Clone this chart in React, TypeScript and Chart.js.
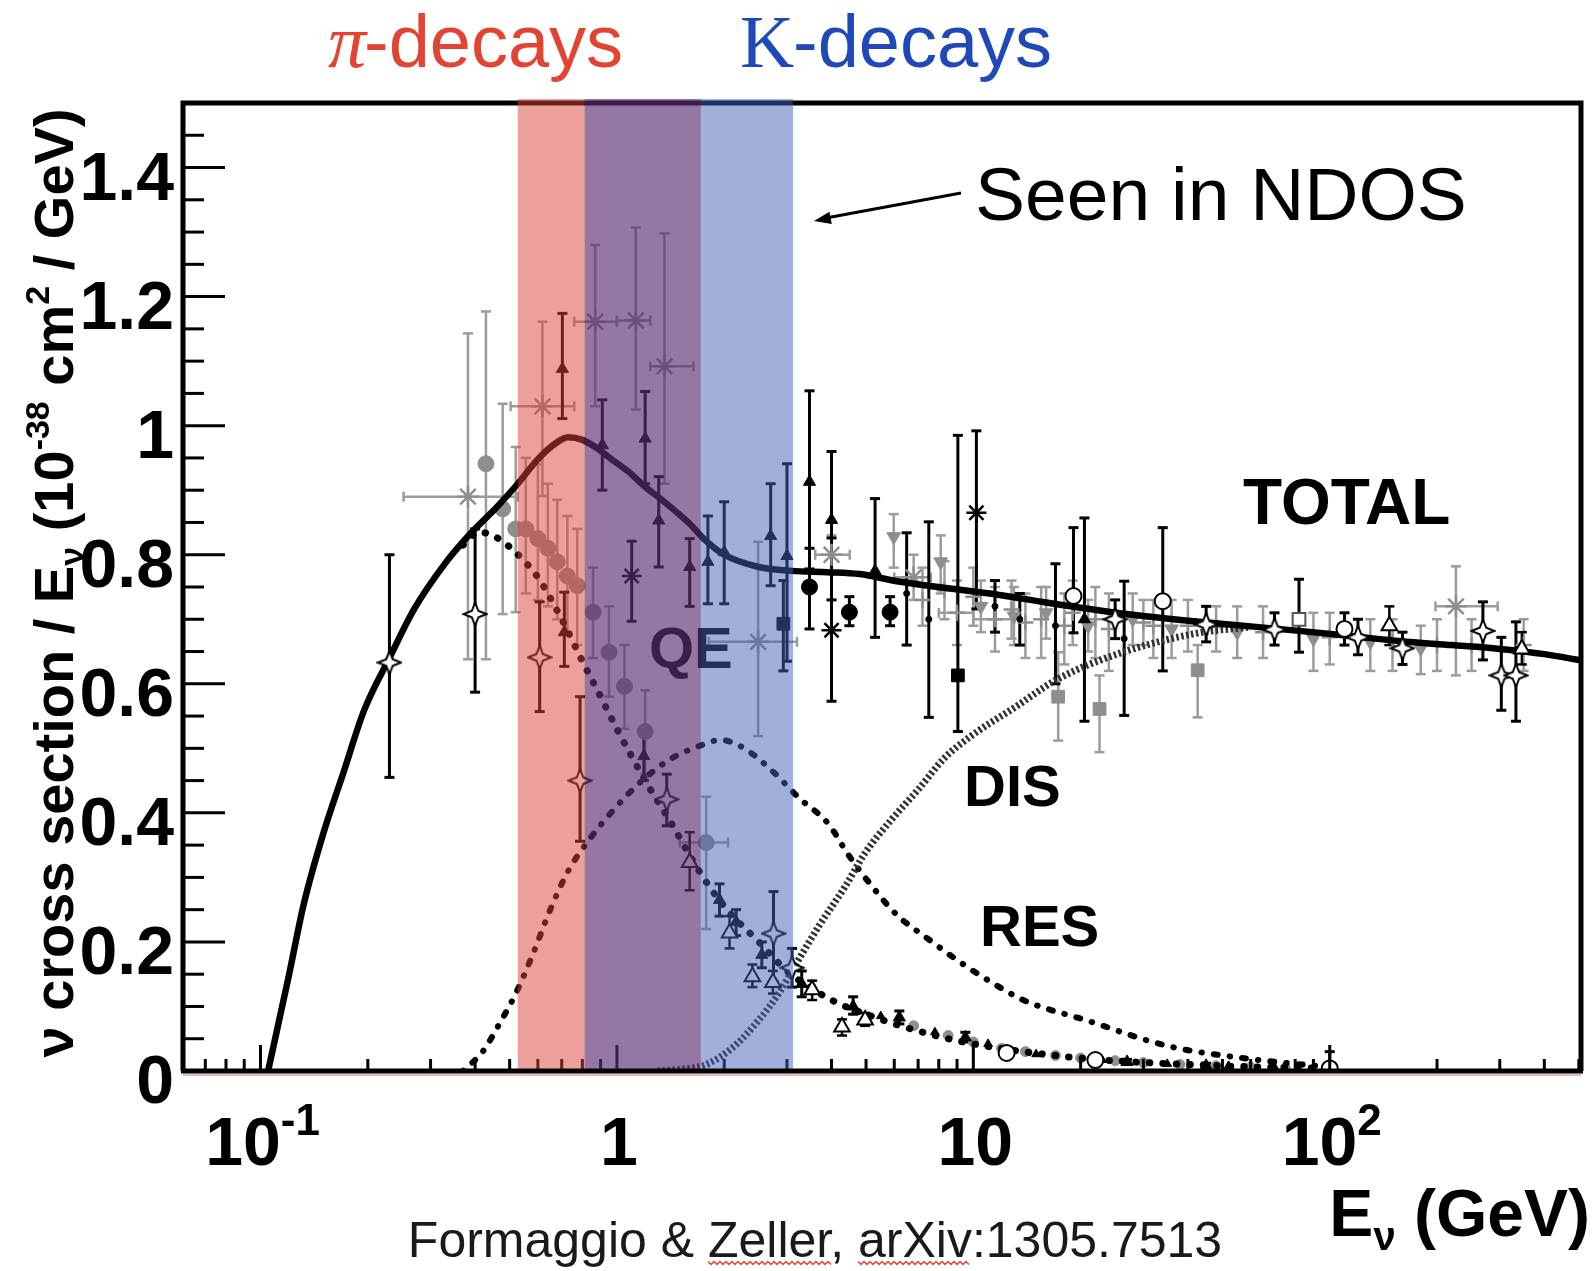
import { useEffect, useRef } from "react";
import { Chart, registerables } from "chart.js";

Chart.register(...registerables);

const W = 1595;
const H = 1271;
const X_MIN = 0.0606;
const X_MAX = 507;
const Y_MAX = 1.5;

const SANS = '"Liberation Sans", Arial, Helvetica, sans-serif';
const SERIF = '"Liberation Serif", "Times New Roman", serif';

// neutrino-energy ranges of the decay bands (GeV)
const piBand = [0.527, 1.72];
const kBand = [0.811, 3.12];

// axis ticks
const yTickValues = [0, 0.2, 0.4, 0.6, 0.8, 1, 1.2, 1.4];
const yTickLabels = ["0", "0.2", "0.4", "0.6", "0.8", "1", "1.2", "1.4"];
const xTickValues = [0.1, 1, 10, 100];
const xTickMantissa = ["10", "1", "10", "10"];
const xTickExponent = ["-1", "", "", "2"];

// theory curves: E (GeV) and sigma/E (1e-38 cm^2/GeV)
const totalE = [0.105, 0.12, 0.132, 0.15, 0.171, 0.195, 0.23, 0.27, 0.33, 0.39, 0.457, 0.527, 0.6, 0.67, 0.73, 0.8, 0.88, 0.96, 1.07, 1.19, 1.33, 1.47, 1.62, 1.75, 2.0, 2.5, 3.1, 3.9, 4.8, 6.1, 8.5, 11.7, 16, 22.4, 30, 43, 60, 82, 115, 158, 220, 300, 400, 510];
const totalV = [0, 0.147, 0.257, 0.368, 0.463, 0.558, 0.64, 0.716, 0.787, 0.834, 0.872, 0.91, 0.948, 0.972, 0.982, 0.978, 0.965, 0.949, 0.93, 0.907, 0.886, 0.866, 0.845, 0.825, 0.8, 0.781, 0.775, 0.773, 0.77, 0.759, 0.748, 0.738, 0.726, 0.714, 0.705, 0.696, 0.689, 0.682, 0.674, 0.666, 0.66, 0.654, 0.646, 0.636];

const qeE = [0.37, 0.41, 0.455, 0.5, 0.55, 0.6, 0.7, 0.8, 0.9, 1.0, 1.2, 1.4, 1.7, 2.0, 2.5, 3.0, 4, 5, 7, 10, 20, 50, 100];
const qeV = [0.815, 0.835, 0.828, 0.812, 0.79, 0.765, 0.7, 0.635, 0.58, 0.53, 0.45, 0.39, 0.31, 0.255, 0.2, 0.155, 0.11, 0.088, 0.062, 0.042, 0.02, 0.008, 0.004];

const resE = [0.37, 0.42, 0.47, 0.52, 0.58, 0.65, 0.73, 0.84, 0.98, 1.15, 1.4, 1.75, 1.95, 2.26, 2.74, 3.23, 3.92, 4.46, 5.2, 6.1, 7.45, 9, 11.2, 13.8, 20.9, 35, 59, 100];
const resV = [0, 0.03, 0.075, 0.12, 0.18, 0.25, 0.31, 0.36, 0.405, 0.445, 0.482, 0.506, 0.513, 0.501, 0.464, 0.424, 0.383, 0.335, 0.286, 0.242, 0.205, 0.172, 0.138, 0.11, 0.078, 0.039, 0.019, 0.006];

const disE = [1.3, 1.6, 1.78, 2.12, 2.5, 2.85, 3.23, 3.68, 4.37, 4.97, 5.9, 7.0, 8.3, 9.85, 13.2, 17.2, 26.3, 43, 60];
const disV = [0, 0.004, 0.01, 0.037, 0.079, 0.121, 0.172, 0.224, 0.286, 0.338, 0.39, 0.436, 0.485, 0.519, 0.565, 0.607, 0.649, 0.679, 0.688];

// measurements: [E, value, errLow, errHigh, E_low, E_high]
const blackTriangles = [
  [0.703, 1.088, 1.011, 1.174], [0.712, 0.68, 0.627, 0.742], [0.91, 0.97, 0.9, 1.04],
  [1.2, 0.98, 0.91, 1.053], [1.31, 0.853, 0.781, 0.921], [1.6, 0.781, 0.72, 0.825],
  [1.8, 0.789, 0.724, 0.86], [2.0, 0.804, 0.724, 0.882], [2.7, 0.829, 0.752, 0.91],
  [3.0, 0.798, 0.635, 0.941], [3.47, 0.913, 0.778, 1.054], [4.0, 0.854, 0.73, 0.96],
  [5.3, 0.775, 0.672, 0.887], [20.5, 0.7, 0.542, 0.857],
  [1.19, 0.488, 0.45, 0.53], [1.94, 0.265, 0.24, 0.29], [2.16, 0.231, 0.21, 0.25],
  [2.55, 0.18, 0.16, 0.2], [3.3, 0.135, 0.115, 0.155], [4.6, 0.1, 0.088, 0.115],
  [6.2, 0.083, 0.073, 0.093], [9.5, 0.052, 0.045, 0.06], [27, 0.014, 0.01, 0.018], [45, 0.008, 0.004, 0.012],
];
const blackBars = [
  [6.5, 0.74, 0.66, 0.834], [7.5, 0.7, 0.548, 0.851], [17, 0.69, 0.6, 0.786], [26.5, 0.67, 0.551, 0.759],
  [11.5, 0.72, 0.68, 0.76], [13.5, 0.7, 0.66, 0.74],
];
const grayCircles = [
  [0.429, 0.941, 0.638, 1.177], [0.478, 0.871, 0.708, 1.034], [0.52, 0.84, 0.711, 0.967],
  [0.555, 0.84, 0.74, 0.95], [0.6, 0.825, 0.73, 0.94], [0.64, 0.81, 0.72, 0.91],
  [0.68, 0.789, 0.7, 0.885], [0.726, 0.767, 0.68, 0.86], [0.774, 0.752, 0.66, 0.84],
  [0.857, 0.711, 0.64, 0.78], [0.95, 0.649, 0.58, 0.72], [1.05, 0.596, 0.53, 0.66],
  [1.2, 0.526, 0.46, 0.59], [1.78, 0.354, 0.22, 0.425, 1.5, 2.05],
];
const grayStars = [
  [0.382, 0.89, 0.638, 1.143, 0.252, 0.527], [0.618, 1.03, 0.891, 1.161, 0.503, 0.759],
  [0.869, 1.161, 1.03, 1.28, 0.759, 1.0], [1.13, 1.163, 1.025, 1.307, 1.0, 1.24],
  [1.36, 1.092, 0.91, 1.298, 1.24, 1.64], [2.49, 0.665, 0.519, 0.82, 1.81, 3.2],
  [4.0, 0.8, 0.77, 0.83, 3.6, 4.5], [6.8, 0.765, 0.73, 0.8, 6.0, 7.6],
  [226, 0.72, 0.613, 0.782, 198, 296],
];
const openStars = [
  [0.23, 0.633, 0.455, 0.8], [0.4, 0.708, 0.587, 0.84], [0.607, 0.641, 0.557, 0.727],
  [0.788, 0.45, 0.356, 0.58], [1.38, 0.421, 0.38, 0.46], [2.75, 0.213, 0.139, 0.278],
  [3.1, 0.16, 0.13, 0.19], [25, 0.7, 0.67, 0.73], [45, 0.692, 0.665, 0.72],
  [70, 0.684, 0.66, 0.71], [120, 0.672, 0.645, 0.7], [160, 0.655, 0.63, 0.68],
  [269, 0.682, 0.637, 0.727], [303, 0.613, 0.559, 0.672], [333, 0.613, 0.542, 0.696],
];
const blackCircles = [[3.47, 0.75, 0.685, 0.81], [4.49, 0.711, 0.69, 0.735], [5.84, 0.711, 0.69, 0.735]];
const blackStars = [[1.1, 0.767, 0.697, 0.821], [4.0, 0.683, 0.573, 0.826], [10.2, 0.865, 0.716, 0.992]];
const blackSquares = [[2.93, 0.693, 0.62, 0.76], [9.05, 0.613, 0.526, 0.985]];
const graySquares = [[17.3, 0.58, 0.512, 0.649], [22.6, 0.561, 0.494, 0.613], [42.6, 0.621, 0.548, 0.66]];
const grayInvTriangles = [
  [5.98, 0.828, 0.78, 0.863], [8.1, 0.789, 0.74, 0.83], [10.5, 0.72, 0.68, 0.76], [13, 0.705, 0.66, 0.75],
  [16, 0.71, 0.67, 0.75], [21, 0.69, 0.65, 0.73], [28, 0.7, 0.66, 0.74], [36, 0.685, 0.64, 0.73],
  [55, 0.68, 0.64, 0.72], [90, 0.67, 0.62, 0.71], [130, 0.665, 0.62, 0.7], [180, 0.655, 0.615, 0.69],
];
const grayCrosses = [
  [9, 0.71, 0.66, 0.76, 8, 10], [11.5, 0.7, 0.65, 0.75, 10, 13], [14, 0.695, 0.64, 0.74],
  [18, 0.69, 0.63, 0.74], [24, 0.685, 0.62, 0.74], [32, 0.69, 0.64, 0.73], [48, 0.688, 0.65, 0.72],
  [65, 0.68, 0.64, 0.72], [100, 0.672, 0.63, 0.71], [150, 0.665, 0.62, 0.7], [200, 0.66, 0.62, 0.7],
  [250, 0.66, 0.62, 0.7], [350, 0.66, 0.62, 0.7],
  [7.2, 0.73, 0.69, 0.78], [8.3, 0.745, 0.7, 0.79], [10, 0.735, 0.69, 0.78], [12.8, 0.715, 0.67, 0.76],
  [15.5, 0.7, 0.64, 0.75], [19, 0.71, 0.66, 0.76], [22, 0.7, 0.64, 0.75], [30, 0.695, 0.66, 0.73], [40, 0.69, 0.65, 0.73],
];
const openCircles = [
  [19.1, 0.736, 0.679, 0.842], [34, 0.728, 0.62, 0.842], [110, 0.685, 0.66, 0.71],
  [12.4, 0.028], [22, 0.017], [100, 0.004, 0, 0.03],
];
const openTriangles = [
  [1.6, 0.323, 0.28, 0.37], [2.07, 0.214, 0.19, 0.24], [2.4, 0.146, 0.13, 0.165], [2.74, 0.137, 0.12, 0.155],
  [3.53, 0.126, 0.11, 0.14], [4.28, 0.068, 0.055, 0.08], [4.97, 0.079, 0.07, 0.09],
  [147, 0.69, 0.66, 0.72], [346, 0.654, 0.63, 0.68],
];
const openSquares = [[82, 0.7, 0.649, 0.762]];
const grayTail = [
  [6.8, 0.07], [8.5, 0.055], [10, 0.045], [12, 0.035], [14, 0.03], [17, 0.024], [20, 0.02],
  [25, 0.016], [30, 0.013], [38, 0.01], [48, 0.008], [60, 0.006], [75, 0.005],
];
const blackTail = [[5.5, 0.085], [7.8, 0.06], [11, 0.042], [15, 0.026], [23, 0.017], [35, 0.011], [52, 0.008], [70, 0.006]];

const toPts = (rows: number[][]) =>
  rows.map((r) => ({ x: r[0], y: r[1], lo: r[2], hi: r[3], xlo: r[4], xhi: r[5] }));
const curvePts = (es: number[], vs: number[]) => es.map((e, i) => ({ x: e, y: vs[i] }));

function makeOpenStar(size: number) {
  const c = document.createElement("canvas");
  c.width = size;
  c.height = size;
  const g = c.getContext("2d")!;
  const cx = size / 2;
  const r = size / 2 - 1.5;
  const ri = r * 0.4;
  g.beginPath();
  for (let i = 0; i < 8; i++) {
    const a = -Math.PI / 2 + (i * Math.PI) / 4;
    const rr = i % 2 === 0 ? r : ri;
    g.lineTo(cx + rr * Math.cos(a), cx + rr * Math.sin(a));
  }
  g.closePath();
  g.fillStyle = "#fff";
  g.fill();
  g.lineWidth = 2;
  g.strokeStyle = "#000";
  g.stroke();
  return c;
}

function line(ctx: CanvasRenderingContext2D, x1: number, y1: number, x2: number, y2: number) {
  ctx.beginPath();
  ctx.moveTo(x1, y1);
  ctx.lineTo(x2, y2);
  ctx.stroke();
}

type Seg = { t: string; font: string; dy: number };
function drawSegs(ctx: CanvasRenderingContext2D, segs: Seg[], x: number, y: number, align: "left" | "center" | "right") {
  let total = 0;
  const widths = segs.map((s) => {
    ctx.font = s.font;
    const w = ctx.measureText(s.t).width;
    total += w;
    return w;
  });
  let cx = align === "left" ? x : align === "center" ? x - total / 2 : x - total;
  ctx.textAlign = "left";
  ctx.textBaseline = "alphabetic";
  segs.forEach((s, i) => {
    ctx.font = s.font;
    ctx.fillText(s.t, cx, y + s.dy);
    cx += widths[i];
  });
}

const errorBarPlugin = {
  id: "errorBars",
  beforeDatasetsDraw(chart: any) {
    const { ctx, chartArea: ca } = chart;
    const xs = chart.scales.x;
    const ys = chart.scales.y;
    ctx.save();
    ctx.beginPath();
    ctx.rect(ca.left, ca.top, ca.right - ca.left, ca.bottom - ca.top);
    ctx.clip();
    chart.data.datasets.forEach((ds: any) => {
      if (!ds.errColor) return;
      ctx.strokeStyle = ds.errColor;
      ctx.lineWidth = ds.errWidth;
      ds.data.forEach((p: any) => {
        const px = xs.getPixelForValue(p.x);
        const py = ys.getPixelForValue(p.y);
        if (p.lo !== undefined && p.hi !== undefined) {
          const y1 = ys.getPixelForValue(p.lo);
          const y2 = ys.getPixelForValue(p.hi);
          line(ctx, px, y1, px, y2);
          line(ctx, px - 5, y1, px + 5, y1);
          line(ctx, px - 5, y2, px + 5, y2);
        }
        if (p.xlo !== undefined && p.xhi !== undefined) {
          const x1 = xs.getPixelForValue(p.xlo);
          const x2 = xs.getPixelForValue(p.xhi);
          line(ctx, x1, py, x2, py);
          line(ctx, x1, py - 5, x1, py + 5);
          line(ctx, x2, py - 5, x2, py + 5);
        }
      });
    });
    ctx.restore();
  },
};

const decorPlugin = {
  id: "decor",
  afterDatasetsDraw(chart: any) {
    const { ctx, chartArea: ca } = chart;
    const xs = chart.scales.x;
    const ys = chart.scales.y;
    ctx.save();
    // QE label lies under the bands
    ctx.fillStyle = "#000";
    ctx.font = `bold 58px ${SANS}`;
    ctx.textAlign = "left";
    ctx.textBaseline = "alphabetic";
    ctx.fillText("QE", 649, 668);

    // frame (top, left, right)
    ctx.strokeStyle = "#000";
    ctx.lineWidth = 5;
    ctx.beginPath();
    ctx.moveTo(ca.left, ca.bottom);
    ctx.lineTo(ca.left, ca.top);
    ctx.lineTo(ca.right, ca.top);
    ctx.lineTo(ca.right, ca.bottom);
    ctx.stroke();

    // y ticks (inside)
    ctx.lineWidth = 3;
    for (let i = 1; i <= 30; i++) {
      const py = ys.getPixelForValue(i * 0.05);
      const len = i % 4 === 0 ? 42 : 21;
      line(ctx, ca.left, py, ca.left + len, py);
    }
    // x ticks (inside, log)
    for (let d = -2; d <= 2; d++) {
      for (let m = 1; m <= 9; m++) {
        const e = m * Math.pow(10, d);
        if (e < X_MIN || e > X_MAX) continue;
        const px = xs.getPixelForValue(e);
        line(ctx, px, ca.bottom, px, ca.bottom - (m === 1 ? 26 : 12));
      }
    }

    // decay bands (semi-transparent overlays)
    const pL = xs.getPixelForValue(piBand[0]);
    const pR = xs.getPixelForValue(piBand[1]);
    const kL = xs.getPixelForValue(kBand[0]);
    const kR = xs.getPixelForValue(kBand[1]);
    const top = ca.top - 4;
    const h = ca.bottom - top;
    ctx.fillStyle = "rgba(219,65,55,0.5)";
    ctx.fillRect(pL, top, kL - pL, h);
    ctx.fillStyle = "rgba(92,46,115,0.65)";
    ctx.fillRect(kL, top, pR - kL, h);
    ctx.fillStyle = "rgba(65,97,183,0.5)";
    ctx.fillRect(pR, top, kR - pR, h);

    // bottom axis
    ctx.strokeStyle = "rgba(205,140,140,0.6)";
    ctx.lineWidth = 2;
    line(ctx, ca.left, ca.bottom + 4, ca.right, ca.bottom + 4);
    ctx.strokeStyle = "#000";
    ctx.lineWidth = 5;
    line(ctx, ca.left - 2, ca.bottom, ca.right + 2, ca.bottom);
    ctx.restore();
  },
  afterDraw(chart: any) {
    const { ctx } = chart;
    const xs = chart.scales.x;
    const ys = chart.scales.y;
    ctx.save();
    ctx.fillStyle = "#000";

    // y tick labels
    ctx.font = `bold 68px ${SANS}`;
    ctx.textAlign = "right";
    ctx.textBaseline = "alphabetic";
    yTickValues.forEach((v, i) => {
      ctx.fillText(yTickLabels[i], 174, ys.getPixelForValue(v) + 32);
    });

    // x tick labels
    xTickValues.forEach((v, i) => {
      const segs: Seg[] = [{ t: xTickMantissa[i], font: `bold 68px ${SANS}`, dy: 0 }];
      if (xTickExponent[i]) segs.push({ t: xTickExponent[i], font: `bold 44px ${SANS}`, dy: -30 });
      drawSegs(ctx, segs, xs.getPixelForValue(v) + 2, 1165, "center");
    });

    // x axis title
    drawSegs(
      ctx,
      [
        { t: "E", font: `bold 66px ${SANS}`, dy: 0 },
        { t: "ν", font: `bold 40px ${SANS}`, dy: 14 },
        { t: " (GeV)", font: `bold 66px ${SANS}`, dy: 0 },
      ],
      1590,
      1236,
      "right"
    );

    // y axis title (rotated)
    ctx.save();
    ctx.translate(73, 583);
    ctx.rotate(-Math.PI / 2);
    drawSegs(
      ctx,
      [
        { t: "ν cross section / E", font: `bold 56px ${SANS}`, dy: 0 },
        { t: "ν", font: `bold 34px ${SANS}`, dy: 10 },
        { t: " (10", font: `bold 56px ${SANS}`, dy: 0 },
        { t: "-38", font: `bold 34px ${SANS}`, dy: -24 },
        { t: " cm", font: `bold 56px ${SANS}`, dy: 0 },
        { t: "2", font: `bold 34px ${SANS}`, dy: -24 },
        { t: " / GeV)", font: `bold 56px ${SANS}`, dy: 0 },
      ],
      0,
      0,
      "center"
    );
    ctx.restore();

    // curve labels
    ctx.fillStyle = "#000";
    ctx.textAlign = "left";
    ctx.font = `bold 64px ${SANS}`;
    ctx.fillText("TOTAL", 1243, 524);
    ctx.font = `bold 58px ${SANS}`;
    ctx.fillText("DIS", 964, 806);
    ctx.fillText("RES", 980, 946);

    // band titles
    ctx.fillStyle = "#e34431";
    ctx.font = `italic 76px ${SERIF}`;
    ctx.fillText("π", 328, 67);
    ctx.font = `74px ${SANS}`;
    ctx.fillText("-decays", 364, 67);
    ctx.fillStyle = "#1f48b8";
    ctx.font = `75px ${SERIF}`;
    ctx.fillText("K", 740, 67);
    ctx.font = `74px ${SANS}`;
    ctx.fillText("-decays", 793, 67);

    // annotation
    ctx.fillStyle = "#000";
    ctx.font = `75px ${SANS}`;
    ctx.fillText("Seen in NDOS", 975, 220);
    ctx.strokeStyle = "#000";
    ctx.lineWidth = 3;
    line(ctx, 961, 193, 826, 218);
    ctx.beginPath();
    const hx = 814, hy = 221;
    const ang = Math.atan2(193 - hy, 961 - hx);
    ctx.moveTo(hx, hy);
    ctx.lineTo(hx + 18 * Math.cos(ang - 0.35), hy + 18 * Math.sin(ang - 0.35));
    ctx.lineTo(hx + 18 * Math.cos(ang + 0.35), hy + 18 * Math.sin(ang + 0.35));
    ctx.closePath();
    ctx.fillStyle = "#000";
    ctx.fill();

    // citation
    const cite = "Formaggio & Zeller, arXiv:1305.7513";
    ctx.font = `50px ${SANS}`;
    ctx.fillStyle = "#1a1a1a";
    ctx.textAlign = "center";
    ctx.fillText(cite, 815, 1257);
    const totalW = ctx.measureText(cite).width;
    const x0 = 815 - totalW / 2;
    const wavy = (pre: string, word: string) => {
      const a = x0 + ctx.measureText(pre).width;
      const b = a + ctx.measureText(word).width;
      ctx.strokeStyle = "#e0483a";
      ctx.lineWidth = 1.5;
      ctx.beginPath();
      let up = true;
      for (let x = a; x <= b; x += 3) {
        ctx.lineTo(x, 1263 + (up ? -1.5 : 1.5));
        up = !up;
      }
      ctx.stroke();
    };
    wavy("Formaggio & ", "Zeller");
    wavy("Formaggio & Zeller, ", "arXiv");
    ctx.restore();
  },
};

export default function App() {
  const ref = useRef<HTMLCanvasElement | null>(null);

  useEffect(() => {
    if (!ref.current) return;
    const star = makeOpenStar(26);
    const GRAY = "#8e8e8e";
    const GRAY_ERR = "#9c9c9c";

    const curve = (data: any, extra: any) => ({
      type: "scatter",
      data,
      showLine: true,
      pointRadius: 0,
      fill: false,
      cubicInterpolationMode: "monotone",
      borderColor: "#000",
      ...extra,
    });
    const pts = (rows: number[][], extra: any) => ({
      type: "scatter",
      data: toPts(rows),
      showLine: false,
      ...extra,
    });

    const chart = new Chart(ref.current, {
      type: "scatter",
      data: {
        datasets: [
          // gray measurements (drawn first)
          pts(grayStars, { pointStyle: "star", pointRadius: 11, borderColor: GRAY, backgroundColor: GRAY, borderWidth: 2.5, errColor: GRAY_ERR, errWidth: 2.5, order: 3 }),
          pts(grayCircles, { pointStyle: "circle", pointRadius: 8, borderColor: GRAY, backgroundColor: GRAY, borderWidth: 1, errColor: GRAY_ERR, errWidth: 2.5, order: 3 }),
          pts(graySquares, { pointStyle: "rect", pointRadius: 9, borderColor: GRAY, backgroundColor: GRAY, borderWidth: 1, errColor: GRAY_ERR, errWidth: 2.5, order: 3 }),
          pts(grayInvTriangles, { pointStyle: "triangle", rotation: 180, pointRadius: 8, borderColor: GRAY, backgroundColor: GRAY, borderWidth: 1, errColor: GRAY_ERR, errWidth: 2.5, order: 3 }),
          pts(grayCrosses, { pointStyle: "cross", pointRadius: 8, borderColor: GRAY, backgroundColor: GRAY, borderWidth: 2.5, errColor: GRAY_ERR, errWidth: 2.5, order: 3 }),
          pts(grayTail, { pointStyle: "circle", pointRadius: 5, borderColor: GRAY, backgroundColor: GRAY, borderWidth: 1, order: 3 }),
          // theory curves
          curve(curvePts(disE, disV), { borderColor: "#333", borderWidth: 7, borderDash: [2.5, 2.5], borderCapStyle: "butt", order: 2 }),
          curve(curvePts(resE, resV), { borderWidth: 6, borderDash: [0.5, 12, 4, 12], borderCapStyle: "round", order: 2 }),
          curve(curvePts(qeE, qeV), { borderWidth: 7, borderDash: [0.5, 13], borderCapStyle: "round", order: 2 }),
          curve(curvePts(totalE, totalV), { borderWidth: 6.5, order: 1 }),
          // black / open measurements (on top)
          pts(blackTriangles, { pointStyle: "triangle", pointRadius: 7, borderColor: "#000", backgroundColor: "#000", borderWidth: 1, errColor: "#000", errWidth: 3, order: 0 }),
          pts(blackBars, { pointStyle: "circle", pointRadius: 3, borderColor: "#000", backgroundColor: "#000", borderWidth: 1, errColor: "#000", errWidth: 3, order: 0 }),
          pts(blackCircles, { pointStyle: "circle", pointRadius: 8, borderColor: "#000", backgroundColor: "#000", borderWidth: 1, errColor: "#000", errWidth: 3, order: 0 }),
          pts(blackStars, { pointStyle: "star", pointRadius: 10, borderColor: "#000", backgroundColor: "#000", borderWidth: 2.5, errColor: "#000", errWidth: 3, order: 0 }),
          pts(blackSquares, { pointStyle: "rect", pointRadius: 9, borderColor: "#000", backgroundColor: "#000", borderWidth: 1, errColor: "#000", errWidth: 3, order: 0 }),
          pts(openStars, { pointStyle: star, pointRadius: 13, errColor: "#000", errWidth: 3, order: 0 }),
          pts(openCircles, { pointStyle: "circle", pointRadius: 8, borderColor: "#000", backgroundColor: "#fff", borderWidth: 2, errColor: "#000", errWidth: 3, order: 0 }),
          pts(openTriangles, { pointStyle: "triangle", pointRadius: 9, borderColor: "#000", backgroundColor: "#fff", borderWidth: 2, errColor: "#000", errWidth: 2.5, order: 0 }),
          pts(openSquares, { pointStyle: "rect", pointRadius: 9, borderColor: "#555", backgroundColor: "#fff", borderWidth: 2, errColor: "#000", errWidth: 3, order: 0 }),
          pts(blackTail, { pointStyle: "triangle", pointRadius: 5, borderColor: "#000", backgroundColor: "#000", borderWidth: 1, order: 0 }),
        ] as any,
      },
      options: {
        responsive: false,
        maintainAspectRatio: false,
        animation: false,
        devicePixelRatio: 1,
        events: [],
        layout: { padding: { left: 183, top: 103, right: 4, bottom: 200 } },
        plugins: { legend: { display: false }, tooltip: { enabled: false }, title: { display: false } },
        scales: {
          x: { type: "logarithmic", min: X_MIN, max: X_MAX, display: false },
          y: { type: "linear", min: 0, max: Y_MAX, display: false },
        },
      } as any,
      plugins: [errorBarPlugin, decorPlugin],
    });
    return () => chart.destroy();
  }, []);

  return (
    <div style={{ position: "absolute", left: 0, top: 0, width: W, height: H, background: "#fff" }}>
      <canvas ref={ref} width={W} height={H} style={{ width: W, height: H, display: "block" }} />
    </div>
  );
}
